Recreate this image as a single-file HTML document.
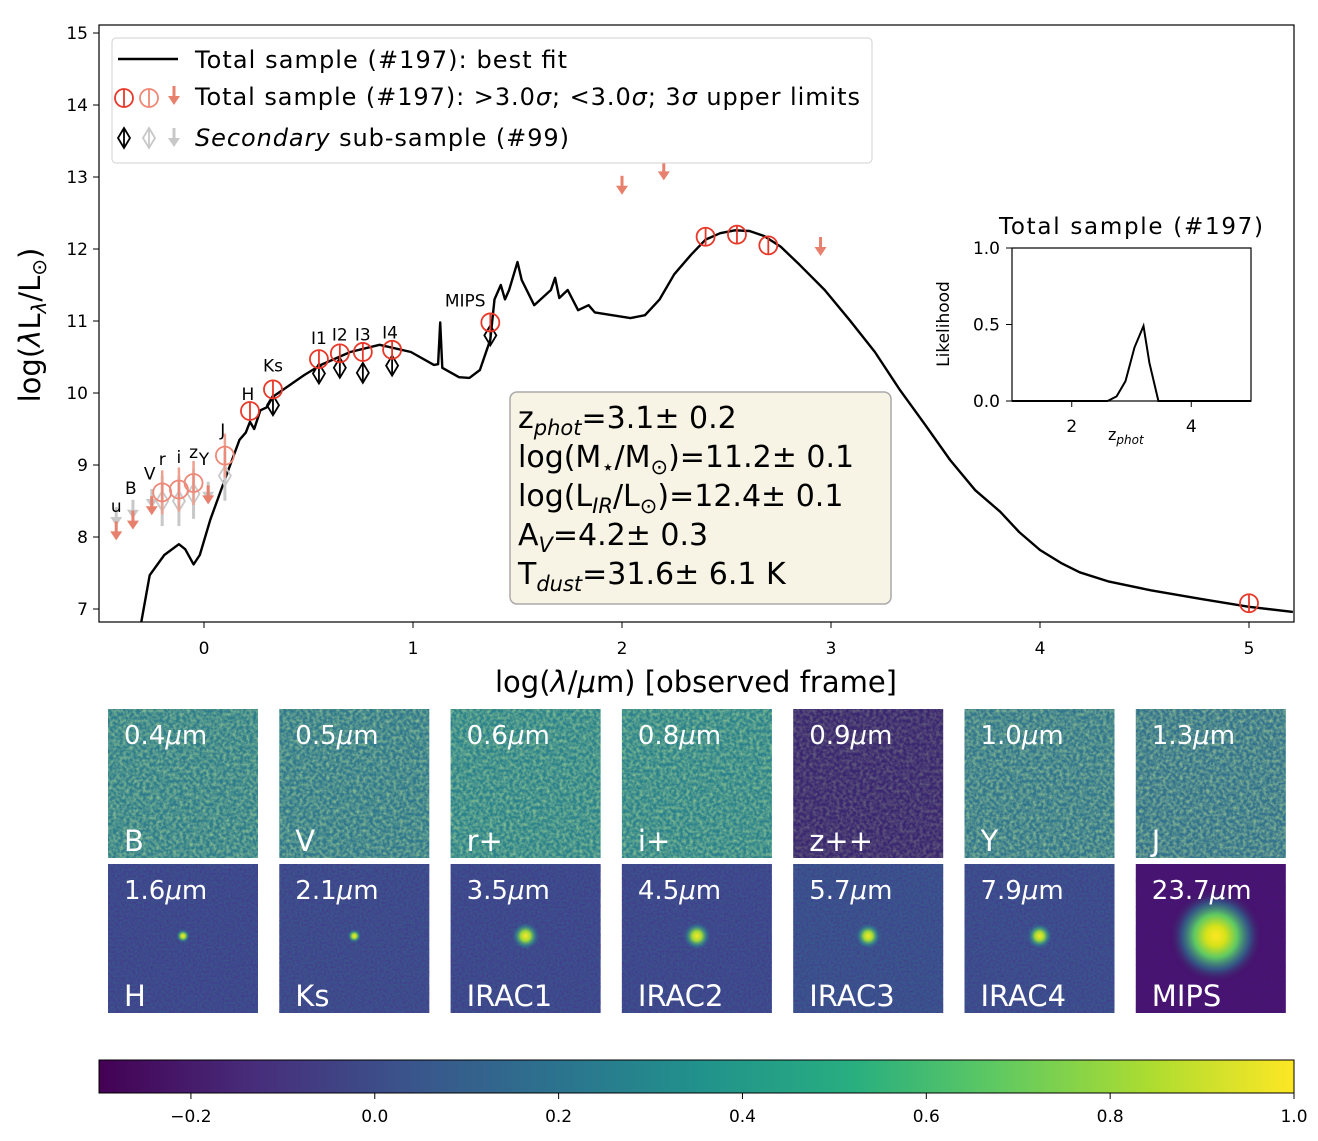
<!DOCTYPE html>
<html><head><meta charset="utf-8"><style>
body{margin:0;background:#fff}
svg text{font-family:"DejaVu Sans","Liberation Sans",sans-serif}
</style></head><body>
<svg id="c" width="1318" height="1136" xmlns="http://www.w3.org/2000/svg">
<defs>
<filter id="nz" x="0" y="0" width="100%" height="100%"><feTurbulence type="fractalNoise" baseFrequency="0.3" numOctaves="2" seed="3"/><feColorMatrix type="matrix" values="0 0 0 0 0.6  0 0 0 0 0.85  0 0 0 0 0.3  0 0 0 1.8 -0.6"/></filter>
<filter id="nzd" x="0" y="0" width="100%" height="100%"><feTurbulence type="fractalNoise" baseFrequency="0.45" numOctaves="2" seed="7"/><feColorMatrix type="matrix" values="0 0 0 0 0.1  0 0 0 0 0.0  0 0 0 0 0.3  0 0 0 1.6 -0.5"/></filter>
<linearGradient id="vir" x1="0" x2="1" y1="0" y2="0">
<stop offset="0" stop-color="#440154"/><stop offset="0.13" stop-color="#472d7b"/><stop offset="0.25" stop-color="#3b528b"/><stop offset="0.38" stop-color="#2c728e"/><stop offset="0.5" stop-color="#21918c"/><stop offset="0.63" stop-color="#28ae80"/><stop offset="0.75" stop-color="#5ec962"/><stop offset="0.88" stop-color="#addc30"/><stop offset="1" stop-color="#fde725"/></linearGradient>
<radialGradient id="src"><stop offset="0" stop-color="#fde725"/><stop offset="0.35" stop-color="#a0da39"/><stop offset="0.7" stop-color="#2a9d8f" stop-opacity="0.5"/><stop offset="1" stop-color="#3b528b" stop-opacity="0"/></radialGradient>
<radialGradient id="mips"><stop offset="0" stop-color="#fde725"/><stop offset="0.2" stop-color="#d8e219"/><stop offset="0.45" stop-color="#5ec962"/><stop offset="0.7" stop-color="#2c728e" stop-opacity="0.7"/><stop offset="1" stop-color="#440154" stop-opacity="0"/></radialGradient>
<clipPath id="clipMain"><rect x="99" y="25" width="1195" height="597"/></clipPath>
</defs>
<g id="main"></g>
<g id="inset"></g>
<g id="tiles"></g>
<g id="cbar"></g>
</svg>
<script>
const NS="http://www.w3.org/2000/svg";
// ---- data ----
const modelX=[-0.3,-0.26,-0.19,-0.12,-0.09,-0.05,-0.02,0.03,0.1,0.17,0.2,0.22,0.24,0.27,0.3,0.33,0.41,0.48,0.56,0.7,0.84,0.99,1.1,1.12,1.13,1.14,1.22,1.27,1.32,1.37,1.39,1.42,1.44,1.46,1.5,1.52,1.58,1.66,1.68,1.7,1.74,1.79,1.84,1.87,2.04,2.11,2.18,2.25,2.33,2.4,2.47,2.54,2.61,2.68,2.76,2.85,2.97,3.09,3.21,3.33,3.45,3.57,3.69,3.81,3.9,4.0,4.1,4.19,4.33,4.53,4.77,5.0,5.21];
const modelY=[6.82,7.47,7.75,7.9,7.83,7.62,7.75,8.24,8.8,9.35,9.45,9.6,9.5,9.76,9.8,9.95,10.11,10.25,10.39,10.57,10.67,10.57,10.39,10.4,10.98,10.35,10.22,10.21,10.32,10.74,11.3,11.5,11.3,11.43,11.82,11.57,11.22,11.43,11.6,11.32,11.43,11.15,11.22,11.12,11.04,11.08,11.3,11.65,11.92,12.13,12.22,12.26,12.25,12.18,12.03,11.78,11.43,11.01,10.57,10.04,9.56,9.07,8.65,8.35,8.07,7.82,7.64,7.51,7.38,7.26,7.14,7.03,6.96];
const detX=[0.22,0.33,0.55,0.65,0.76,0.9,1.37,2.4,2.55,2.7,5.0];
const detY=[9.75,10.05,10.47,10.55,10.57,10.6,10.98,12.17,12.2,12.05,7.08];
const weakX=[-0.2,-0.12,-0.05,0.1];
const weakY=[8.62,8.66,8.75,9.13];
const ulX=[-0.42,-0.34,-0.25,0.02,2.0,2.2,2.95];
const ulY=[8.05,8.2,8.4,8.55,12.85,13.05,12.0];
const secX=[0.33,0.55,0.65,0.76,0.9,1.37];
const secY=[9.83,10.27,10.35,10.28,10.38,10.8];
const secWeakX=[-0.2,-0.12,-0.05,0.1];
const secWeakY=[8.5,8.5,8.6,8.85];
const secUlX=[-0.42,-0.34,-0.25,0.02];
const secUlY=[8.25,8.35,8.5,8.6];
const bandNames=["u","B","V","r","i","z","Y","J","H","Ks","I1","I2","I3","I4","MIPS"];
const bandX=[-0.42,-0.35,-0.26,-0.2,-0.12,-0.05,0.0,0.09,0.21,0.33,0.55,0.65,0.76,0.89,1.25];
const bandY=[8.35,8.6,8.8,9.0,9.03,9.1,9.0,9.4,9.9,10.3,10.68,10.73,10.73,10.76,11.2];
const xTicks=[0,1,2,3,4,5];
const yTicks=[7,8,9,10,11,12,13,14,15];
const zX=[1.0,2.6,2.75,2.9,3.05,3.2,3.3,3.45,5.0];
const zY=[0,0,0.03,0.13,0.35,0.49,0.25,0,0];
const zTicksX=[2,4];
const zTicksY=[0.0,0.5,1.0];
const tileLabels=["0.4μm","0.5μm","0.6μm","0.8μm","0.9μm","1.0μm","1.3μm","1.6μm","2.1μm","3.5μm","4.5μm","5.7μm","7.9μm","23.7μm"];
const tileBands=["B","V","r+","i+","z++","Y","J","H","Ks","IRAC1","IRAC2","IRAC3","IRAC4","MIPS"];
const tileBg=["#2f7d8c","#2f788d","#2c828c","#2c828c","#3a2670","#31768d","#32728d","#3b528b","#3b548b","#3b528b","#3b528b","#38598c","#3a558c","#45176e"];
const tileSrc=[0,0,0,0,0,0,0,7,7,14,14,13,13,48];
const cbTicks=[-0.2,0.0,0.2,0.4,0.6,0.8,1.0];

// ---- axes ----
const X=v=>204+209*v, Y=v=>609-72*(v-7);
function el(tag,attrs,parent,txt){const e=document.createElementNS(NS,tag);for(const k in attrs)e.setAttribute(k,attrs[k]);if(txt!==undefined)e.textContent=txt;parent.appendChild(e);return e;}
const main=document.getElementById('main');
const frame=el('rect',{x:99,y:25,width:1195,height:597,fill:'none',stroke:'#000','stroke-width':1.2},main);


xTicks.forEach(t=>{el('line',{x1:X(t),x2:X(t),y1:622,y2:628,stroke:'#000'},main);
 const tx=el('text',{x:X(t),y:654,'font-size':17,'text-anchor':'middle'},main,String(t));
 
 });
yTicks.forEach(t=>{el('line',{x1:93,x2:99,y1:Y(t),y2:Y(t),stroke:'#000'},main);
 const ty=el('text',{x:88,y:Y(t)+6,'font-size':17,'text-anchor':'end'},main,String(t));
 
 });
const xt=el('text',{x:696,y:692,'font-size':29,'text-anchor':'middle'},main,'log(');
el('tspan',{'font-style':'italic'},xt,'λ');xt.appendChild(document.createTextNode('/'));el('tspan',{'font-style':'italic'},xt,'μ');xt.appendChild(document.createTextNode('m) [observed frame]'));


const yt=el('text',{x:0,y:0,'font-size':29,'text-anchor':'middle',transform:'translate(40,325) rotate(-90)'},main,'log(');
el('tspan',{'font-style':'italic'},yt,'λ');yt.appendChild(document.createTextNode('L'));
el('tspan',{'font-size':20,dy:6,'font-style':'italic'},yt,'λ');el('tspan',{dy:-6},yt,'/L');el('tspan',{'font-size':20,dy:6},yt,'⊙');el('tspan',{dy:-6},yt,')');


const pg=el('g',{'clip-path':'url(#clipMain)'},main);
// model
let d='';modelX.forEach((x,i)=>{d+=(i?'L':'M')+X(x).toFixed(1)+','+Y(modelY[i]).toFixed(1);});
const mp=el('path',{d:d,fill:'none',stroke:'#000','stroke-width':2.4,'stroke-linejoin':'round'},pg);


function arrow(x,y,col,g){el('line',{x1:x,x2:x,y1:y-12,y2:y+2,stroke:col,'stroke-width':3},g);el('path',{d:`M${x-6},${y-2}L${x+6},${y-2}L${x},${y+7}Z`,fill:col},g);}
function diamond(x,y,col,g){el('path',{d:`M${x},${y-10}L${x+6},${y}L${x},${y+10}L${x-6},${y}Z`,fill:'none',stroke:col,'stroke-width':1.8},g);el('line',{x1:x,x2:x,y1:y-10,y2:y+10,stroke:col,'stroke-width':1.8},g);}
function circ(x,y,col,g){el('circle',{cx:x,cy:y,r:9,fill:'none',stroke:col,'stroke-width':1.8},g);el('line',{x1:x,x2:x,y1:y-9,y2:y+9,stroke:col,'stroke-width':1.8},g);}
secUlX.forEach((x,i)=>{const g=el('g',{},pg);arrow(X(x),Y(secUlY[i]),'#c8c8c8',g);});
secWeakX.forEach((x,i)=>{const g=el('g',{},pg);el('line',{x1:X(x),x2:X(x),y1:Y(secWeakY[i])-25,y2:Y(secWeakY[i])+25,stroke:'#c8c8c8','stroke-width':3},g);diamond(X(x),Y(secWeakY[i]),'#c8c8c8',g);});
ulX.forEach((x,i)=>{const g=el('g',{},pg);arrow(X(x),Y(ulY[i]),'#e8806e',g);});
weakX.forEach((x,i)=>{const g=el('g',{},pg);el('line',{x1:X(x),x2:X(x),y1:Y(weakY[i])-22,y2:Y(weakY[i])+22,stroke:'#eea090','stroke-width':2.5},g);circ(X(x),Y(weakY[i]),'#ee8877',g);});
secX.forEach((x,i)=>{const g=el('g',{},pg);diamond(X(x),Y(secY[i]),'#000',g);});
detX.forEach((x,i)=>{const g=el('g',{},pg);circ(X(x),Y(detY[i]),'#e8382a',g);});
bandNames.forEach((b,i)=>{const t=el('text',{x:X(bandX[i]),y:Y(bandY[i]),'font-size':17,'text-anchor':'middle'},main,b);});
// legend
const lg=el('g',{},main);
el('rect',{x:112,y:38,width:760,height:125,rx:4,fill:'#fff',stroke:'#ccc','stroke-opacity':0.9},lg);
el('line',{x1:118,x2:178,y1:59,y2:59,stroke:'#000','stroke-width':2.4},lg);
el('text',{x:195,y:68,'font-size':24,textLength:372},lg,'Total sample (#197): best fit');
circ(124,98,'#e8382a',lg);circ(149,98,'#ee8877',lg);arrow(174,98,'#e8806e',lg);
const l2=el('text',{x:195,y:105,'font-size':24,textLength:665},lg,'Total sample (#197): >3.0');el('tspan',{'font-style':'italic'},l2,'σ');l2.appendChild(document.createTextNode('; <3.0'));el('tspan',{'font-style':'italic'},l2,'σ');l2.appendChild(document.createTextNode('; 3'));el('tspan',{'font-style':'italic'},l2,'σ');l2.appendChild(document.createTextNode(' upper limits'));
diamond(124,138,'#000',lg);diamond(149,138,'#c8c8c8',lg);arrow(174,140,'#c8c8c8',lg);
const l3=el('text',{x:195,y:146,'font-size':24,textLength:374},lg,'');el('tspan',{'font-style':'italic'},l3,'Secondary');l3.appendChild(document.createTextNode(' sub-sample (#99)'));
// text box
const tb=el('g',{},main);
el('rect',{x:510,y:392,width:381,height:212,rx:7,fill:'#f7f3e5',stroke:'#aaa','stroke-width':1.5},tb);
const lines=[['z','phot','=3.1± 0.2'],['log(M','⋆','/M','⊙',')=11.2± 0.1'],['log(L','IR','/L','⊙',')=12.4± 0.1'],['A','V','=4.2± 0.3'],['T','dust','=31.6± 6.1 K']];
lines.forEach((ln,i)=>{const t=el('text',{x:518,y:428+39*i,'font-size':30},tb,'');ln.forEach((s,j)=>{if(j%2==1){el('tspan',{'font-size':21,dy:7,'font-style':(s=='⊙'||s=='⋆')?'normal':'italic'},t,s);}else{el('tspan',{dy:j?-7:0},t,s);}});});
// inset
const ins=document.getElementById('inset');
const IX=v=>1012+59.75*(v-1), IY=v=>401-153*v;
el('rect',{x:1012,y:248,width:239,height:153,fill:'#fff',stroke:'#000','stroke-width':1.2},ins);
let dz='';zX.forEach((x,i)=>{dz+=(i?'L':'M')+IX(x).toFixed(1)+','+IY(zY[i]).toFixed(1);});
const zl=el('path',{d:dz,fill:'none',stroke:'#000','stroke-width':2},ins);
zTicksX.forEach(t=>{el('line',{x1:IX(t),x2:IX(t),y1:401,y2:407,stroke:'#000'},ins);el('text',{x:IX(t),y:432,'font-size':17,'text-anchor':'middle'},ins,String(t));});
zTicksY.forEach(t=>{el('line',{x1:1006,x2:1012,y1:IY(t),y2:IY(t),stroke:'#000'},ins);el('text',{x:1000,y:IY(t)+6,'font-size':17,'text-anchor':'end'},ins,t.toFixed(1));});
const it=el('text',{x:1131,y:234,'font-size':23,'text-anchor':'middle',textLength:264},ins,'Total sample (#197)');
const ixt=el('text',{x:1108,y:440,'font-size':16},ins,'z');el('tspan',{'font-size':12,dy:4,'font-style':'italic'},ixt,'phot');
const iyt=el('text',{x:0,y:0,'font-size':17,'text-anchor':'middle',transform:'translate(949,324) rotate(-90)'},ins,'Likelihood');
// tiles
const tiles=document.getElementById('tiles');
tileLabels.forEach((lab,i)=>{const col=i%7,row=Math.floor(i/7);const x=108+col*171.3,y=row?864:709,w=150,h=149;
 const g=el('g',{},tiles);
 el('rect',{x:x,y:y,width:w,height:h,fill:tileBg[i]},g);
 el('rect',{x:x,y:y,width:w,height:h,filter:row?'url(#nzd)':'url(#nz)',opacity:row?0.35:(i==4?0.3:0.6)},g);
 if(tileSrc[i])el('circle',{cx:x+w/2+(i==13?5:0),cy:y+72,r:tileSrc[i],fill:i==13?'url(#mips)':'url(#src)'},g);
 el('text',{x:x+16,y:y+35,'font-size':26,fill:'#fff'},g,lab.replace('μm',''));
 g.lastChild.appendChild(Object.assign(document.createElementNS(NS,'tspan'),{textContent:'μ'}));g.lastChild.lastChild.setAttribute('font-style','italic');
 g.lastChild.appendChild(document.createTextNode('m'));
 el('text',{x:x+16,y:y+142,'font-size':29,fill:'#fff'},g,tileBands[i]);});
// colorbar
const cb=document.getElementById('cbar');const CX=v=>99+1195*(v+0.3)/1.3;
el('rect',{x:99,y:1060,width:1195,height:33,fill:'url(#vir)',stroke:'#000'},cb);
cbTicks.forEach(t=>{el('line',{x1:CX(t),x2:CX(t),y1:1093,y2:1099,stroke:'#000'},cb);el('text',{x:CX(t),y:1122,'font-size':17,'text-anchor':'middle'},cb,(t<0?'−':'')+Math.abs(t).toFixed(1));});
</script>
</body></html>
